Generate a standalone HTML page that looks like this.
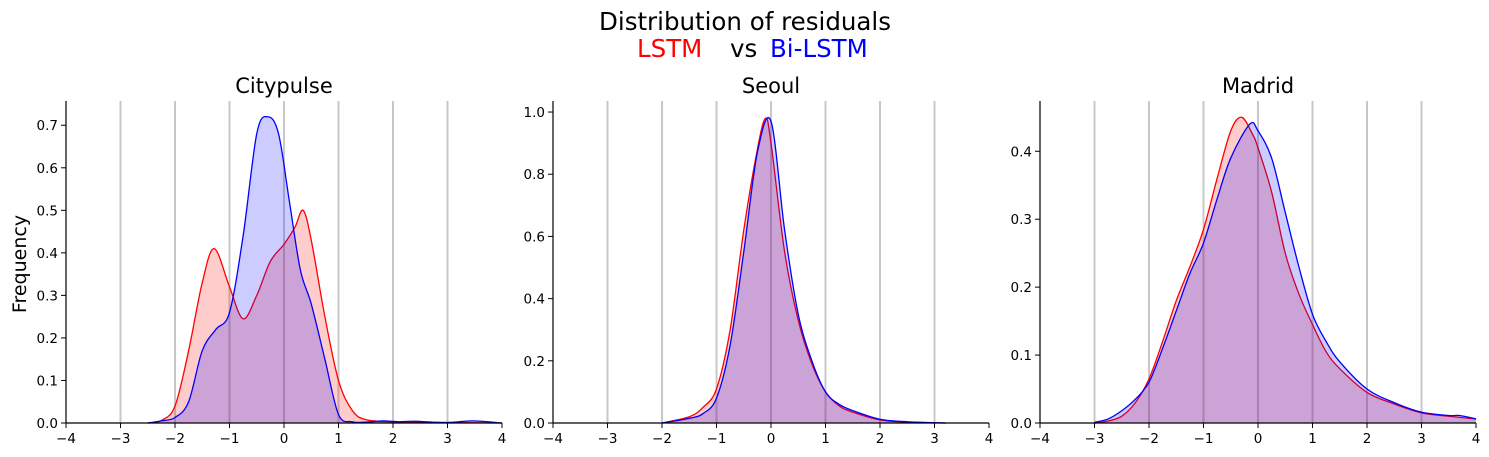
<!DOCTYPE html>
<html><head><meta charset="utf-8">
<style>
html,body{margin:0;padding:0;background:#fff;}
svg{display:block;font-family:"DejaVu Sans","Liberation Sans",sans-serif;}
</style></head>
<body>
<svg id="chart" width="1489" height="457" viewBox="0 0 1489 457" xmlns="http://www.w3.org/2000/svg">
<text x="745" y="30" font-size="24.5" text-anchor="middle" fill="#000">Distribution of residuals</text>
<text x="637" y="57" font-size="24.5" text-anchor="start" fill="#ff0000">LSTM</text>
<text x="730" y="57" font-size="24.5" text-anchor="start" fill="#000">vs</text>
<text x="770" y="57" font-size="24.5" text-anchor="start" fill="#0000ff">Bi-LSTM</text>
<text transform="translate(26,264) rotate(-90)" font-size="19" text-anchor="middle">Frequency</text>
<g id="panels"></g>
</svg>
<script>
const cityX_red=[-2.5,-2.25,-2,-1.75,-1.5,-1.28,-1,-0.75,-0.5,-0.25,0,0.2,0.35,0.5,0.75,1,1.25,1.5,2,3,4];
const cityY_red=[0,0.006,0.04,0.17,0.33,0.41,0.32,0.245,0.3,0.38,0.42,0.46,0.50,0.43,0.25,0.1,0.03,0.008,0.003,0.001,0];
const cityX_blue=[-2.5,-2.25,-2,-1.75,-1.5,-1.25,-1,-0.75,-0.5,-0.3,-0.1,0.1,0.3,0.5,0.75,1,1.25,1.5,1.8,2.1,2.4,3,3.45,4];
const cityY_blue=[0,0.005,0.013,0.05,0.17,0.22,0.26,0.44,0.68,0.72,0.68,0.52,0.36,0.28,0.15,0.02,0.003,0.002,0.005,0.003,0.004,0.001,0.005,0];
const seoulX_red=[-2,-1.5,-1.25,-1,-0.75,-0.5,-0.25,-0.1,0,0.25,0.5,0.75,1,1.25,1.5,2,2.5,3.2];
const seoulY_red=[0,0.02,0.05,0.11,0.3,0.62,0.88,0.98,0.9,0.55,0.33,0.19,0.1,0.055,0.035,0.01,0.003,0];
const seoulX_blue=[-2,-1.5,-1.25,-1,-0.75,-0.5,-0.25,0,0.25,0.5,0.75,1,1.25,1.5,2,2.5,3.2];
const seoulY_blue=[0,0.015,0.03,0.08,0.25,0.55,0.87,0.97,0.62,0.35,0.2,0.1,0.06,0.04,0.012,0.004,0];
const madX_red=[-3,-2.75,-2.5,-2.25,-2,-1.75,-1.5,-1.25,-1,-0.75,-0.5,-0.3,-0.1,0,0.25,0.5,0.75,1,1.25,1.5,2,2.5,3,3.5,4];
const madY_red=[0,0.003,0.01,0.03,0.065,0.12,0.18,0.23,0.285,0.36,0.43,0.45,0.425,0.405,0.34,0.25,0.19,0.145,0.105,0.08,0.045,0.028,0.015,0.01,0.006];
const madX_blue=[-3,-2.75,-2.5,-2.25,-2,-1.75,-1.5,-1.25,-1,-0.75,-0.5,-0.15,0,0.25,0.5,0.75,1,1.25,1.5,2,2.5,3,3.5,3.7,4];
const madY_blue=[0.001,0.006,0.018,0.035,0.06,0.11,0.165,0.22,0.265,0.33,0.39,0.44,0.43,0.39,0.31,0.23,0.16,0.12,0.09,0.05,0.03,0.016,0.011,0.011,0.006];
const xTicks=[-4,-3,-2,-1,0,1,2,3,4];
const cityYTicks=[0,0.1,0.2,0.3,0.4,0.5,0.6,0.7];
const seoulYTicks=[0,0.2,0.4,0.6,0.8,1.0];
const madYTicks=[0,0.1,0.2,0.3,0.4];

const NS="http://www.w3.org/2000/svg";
const panelsG=document.getElementById('panels');
function mk(tag,attrs,parent){const e=document.createElementNS(NS,tag);for(const k in attrs)e.setAttribute(k,attrs[k]);parent.appendChild(e);return e;}
function smooth(pts){
  let d="M"+pts[0][0]+","+pts[0][1];
  for(let i=0;i<pts.length-1;i++){
    const p0=pts[Math.max(0,i-1)],p1=pts[i],p2=pts[i+1],p3=pts[Math.min(pts.length-1,i+2)];
    const c1x=p1[0]+(p2[0]-p0[0])/6,c1y=p1[1]+(p2[1]-p0[1])/6;
    const c2x=p2[0]-(p3[0]-p1[0])/6,c2y=p2[1]-(p3[1]-p1[1])/6;
    d+=" C"+c1x.toFixed(2)+","+c1y.toFixed(2)+" "+c2x.toFixed(2)+","+c2y.toFixed(2)+" "+p2[0].toFixed(2)+","+p2[1].toFixed(2);
  }
  return d;
}
const panels=[
 {name:"citypulse",title:"Citypulse",x0:66,x1:502,ymax:0.757,ticks:cityYTicks,dec:1,series:[[cityX_red,cityY_red,"#ff0000"],[cityX_blue,cityY_blue,"#0000ff"]]},
 {name:"seoul",title:"Seoul",x0:553,x1:989,ymax:1.0355,ticks:seoulYTicks,dec:1,series:[[seoulX_red,seoulY_red,"#ff0000"],[seoulX_blue,seoulY_blue,"#0000ff"]]},
 {name:"madrid",title:"Madrid",x0:1040,x1:1476,ymax:0.474,ticks:madYTicks,dec:1,series:[[madX_red,madY_red,"#ff0000"],[madX_blue,madY_blue,"#0000ff"]]}
];
const yBot=423,yTop=101;
panels.forEach(p=>{
  const g=mk('g',{},panelsG);
  
  
  const sx=v=>p.x0+(v+4)/8*(p.x1-p.x0);
  const sy=v=>yBot-v/p.ymax*(yBot-yTop);
  const t=mk('text',{x:(p.x0+p.x1)/2,y:93,'font-size':21,'text-anchor':'middle'},g);
  t.textContent=p.title;
  
  
  xTicks.forEach(v=>{
    if(v>-4&&v<4){
      const gl=mk('line',{x1:sx(v),x2:sx(v),y1:yTop,y2:yBot,stroke:'#c8c8c8','stroke-width':2},g);
      
      
    }
    mk('line',{x1:sx(v),x2:sx(v),y1:yBot,y2:yBot+5,stroke:'#000','stroke-width':1},g);
    const tl=mk('text',{x:sx(v),y:yBot+20,'font-size':13.5,'text-anchor':'middle'},g);
    tl.textContent=(v<0?"\u2212"+(-v):String(v));
    
    
  });
  p.ticks.forEach(v=>{
    mk('line',{x1:p.x0-5,x2:p.x0,y1:sy(v),y2:sy(v),stroke:'#000','stroke-width':1},g);
    const tl=mk('text',{x:p.x0-8,y:sy(v)+5,'font-size':13.5,'text-anchor':'end'},g);
    tl.textContent=v.toFixed(p.dec);
    
    
  });
  p.series.forEach((s,i)=>{
    const pts=s[0].map((x,j)=>[sx(x),sy(s[1][j])]);
    const d=smooth(pts);
    const area=mk('path',{d:d+" L"+pts[pts.length-1][0]+","+yBot+" L"+pts[0][0]+","+yBot+" Z",fill:s[2],'fill-opacity':0.2,stroke:'none'},g);
    
    
    const line=mk('path',{d:d,fill:'none',stroke:s[2],'stroke-width':1.3},g);
    
    
  });
  mk('line',{x1:p.x0,x2:p.x0,y1:yTop,y2:yBot,stroke:'#000','stroke-width':1.2},g);
  mk('line',{x1:p.x0,x2:p.x1,y1:yBot,y2:yBot,stroke:'#000','stroke-width':1.2},g);
});
</script>
</body></html>
